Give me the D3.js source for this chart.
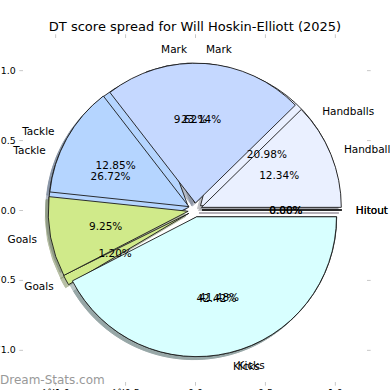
<!DOCTYPE html>
<head>
    <title>DT score spread</title>
    <script src="https://d3js.org/d3.v7.min.js"></script>
    <style>
        body { margin: 0; background: #fff; }
        svg { display: block; font-family: "DejaVu Sans", sans-serif; }
    </style>
</head>
<body>
    <div id="home"></div>
    <script>
        const categories = ["Hitout", "Handballs", "Mark", "Tackle", "Goals", "Kicks"];
        // bottom pie (drawn first) and top pie, values in percent
        const pieBack = [0, 20.98, 9.62, 26.72, 1.20, 41.48];
        const pieFront = [0, 12.34, 23.14, 12.85, 9.25, 42.42];
        const colors = ["#f4e8ff", "#eaf0ff", "#c5d8ff", "#b5d5ff", "#d0ea8a", "#d8ffff"];
        const ticks = [-1, -0.5, 0, 0.5, 1];

        const w = 390, h = 390;
        const svg = d3.select("#home").append("svg")
            .attr("width", w)
            .attr("height", h);

        const x = d3.scaleLinear().domain([-1.23, 1.23]).range([23, 367]);
        const y = d3.scaleLinear().domain([-1.23, 1.23]).range([382, 38]);
        const r = x(1) - x(0);
        const explode = 0.05;

        // title
        svg.append("text")
            .attr("x", 195)
            .attr("y", 30.5)
            .attr("text-anchor", "middle")
            .style("font-size", "13px")
            .text("DT score spread for Will Hoskin-Elliott (2025)");

        // axes, ticks only
        const fmt = d3.format(".1f");
        const axes = [
            [d3.axisLeft(y).tickFormat(fmt), `translate(${x.range()[0]},0)`],
            [d3.axisRight(y).tickFormat(""), `translate(${x.range()[1]},0)`],
            [d3.axisTop(x).tickFormat(""), `translate(0,${y.range()[1]})`],
            [d3.axisBottom(x).tickFormat(fmt), `translate(0,${y.range()[0]})`]
        ];
        axes.forEach(function(a) {
            const g = svg.append("g")
                .attr("transform", a[1])
                .call(a[0].tickValues(ticks).tickSize(3.7).tickPadding(3.7));
            g.select(".domain").remove();
            g.selectAll(".tick line").attr("stroke", "#c8c8c8");
            g.selectAll(".tick text")
                .attr("fill", "#000")
                .style("font-size", "9.4px")
                .style("font-family", "DejaVu Sans");
        });

        // matplotlib-like pie: counterclockwise from 3 o'clock
        const pie = d3.pie().sort(null).value(d => d)
            .startAngle(Math.PI / 2)
            .endAngle(Math.PI / 2 - 2 * Math.PI);
        const arc = d3.arc().innerRadius(0).outerRadius(r);

        function wedges(values) {
            return pie(values).map(function(d, i) {
                const mid = (d.startAngle + d.endAngle) / 2;
                return {
                    arc: d,
                    i: i,
                    dx: Math.sin(mid),
                    dy: -Math.cos(mid),
                    pct: d.value / d3.sum(values) * 100
                };
            });
        }
        const back = wedges(pieBack);
        const front = wedges(pieFront);

        const cx = x(0), cy = y(0);
        const off = explode * r;

        // shadows of both pies sit under all wedges
        const shadowLayer = svg.append("g");
        [back, front].forEach(function(ws) {
            shadowLayer.selectAll(null)
                .data(ws)
                .enter()
                .append("path")
                .attr("d", d => arc(d.arc))
                .attr("transform", d => `translate(${cx + d.dx * off - 3},${cy + d.dy * off + 3})`)
                .attr("fill", d => d3.rgb(colors[d.i]).darker(1.7))
                .attr("stroke", d => d3.rgb(colors[d.i]).darker(1.7))
                .attr("stroke-width", 1)
                .attr("opacity", 0.5);
        });

        [back, front].forEach(function(ws) {
            svg.append("g").selectAll("path")
                .data(ws)
                .enter()
                .append("path")
                .attr("d", d => arc(d.arc))
                .attr("transform", d => `translate(${cx + d.dx * off},${cy + d.dy * off})`)
                .attr("fill", d => colors[d.i])
                .attr("stroke", "#1a1a1a")
                .attr("stroke-width", 0.9)
                .attr("stroke-linejoin", "round");
        });

        [back, front].forEach(function(ws) {
            const g = svg.append("g").style("font-size", "10.5px");
            g.selectAll(".lab")
                .data(ws)
                .enter()
                .append("text")
                .attr("x", d => cx + d.dx * (off + 1.1 * r))
                .attr("y", d => cy + d.dy * (off + 1.1 * r))
                .attr("dy", "0.35em")
                .attr("text-anchor", d => d.dx * (off + 1.1 * r) < -1e-9 ? "end" : "start")
                .text(d => categories[d.i]);
            g.selectAll(".pct")
                .data(ws)
                .enter()
                .append("text")
                .attr("x", d => cx + d.dx * (off + 0.6 * r))
                .attr("y", d => cy + d.dy * (off + 0.6 * r))
                .attr("dy", "0.35em")
                .attr("text-anchor", "middle")
                .text(d => d.pct.toFixed(2) + "%");
        });

        // watermark
        svg.append("text")
            .attr("x", 0)
            .attr("y", 384)
            .attr("fill", "#999")
            .style("font-size", "12px")
            .text("Dream-Stats.com");
    </script>
</body>
